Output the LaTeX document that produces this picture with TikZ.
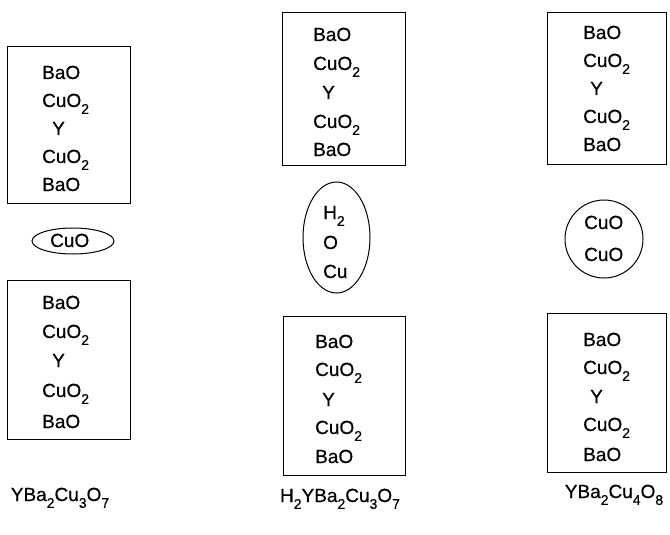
\documentclass[tikz,border=0pt]{standalone}
\usepackage{fontspec}
\setmainfont{Liberation Sans}[FakeBold=0.6]
\usetikzlibrary{shapes.geometric}
\newcommand{\chsub}[1]{\raisebox{-0.36em}{\fontsize{14}{14}\selectfont #1}}
\tikzset{
  layerbox/.style={draw, line width=1pt, rectangle, inner sep=0pt},
  ring/.style={draw, line width=1pt, ellipse, inner sep=0pt},
  lbl/.style={anchor=base west, inner sep=0pt, font=\fontsize{19}{19}\selectfont},
  formula/.style={anchor=base, inner sep=0pt, font=\fontsize{19}{19}\selectfont},
}
\begin{document}
\begin{tikzpicture}[x=1pt,y=-1pt]
\useasboundingbox (0,0) rectangle (670,535);
% ---------- left column ----------
\node[layerbox, minimum width=123pt, minimum height=156pt] (LT) at (68.5,125) {};
\node[lbl] (LT1) at (42,79) {BaO};
\node[lbl] (LT2) at (42,107) {CuO\chsub{2}};
\node[lbl] (LT3) at (52,135) {Y};
\node[lbl] (LT4) at (42,163) {CuO\chsub{2}};
\node[lbl] (LT5) at (42,191) {BaO};
\node[ring, minimum width=82pt, minimum height=26pt] (LE) at (73,241) {};
\node[lbl] (LE1) at (50,247) {CuO};
\node[layerbox, minimum width=123pt, minimum height=159pt] (LB) at (68.5,359.5) {};
\node[lbl] (LB1) at (42,309) {BaO};
\node[lbl] (LB2) at (42,338) {CuO\chsub{2}};
\node[lbl] (LB3) at (52,367) {Y};
\node[lbl] (LB4) at (42,397) {CuO\chsub{2}};
\node[lbl] (LB5) at (42,428) {BaO};
% ---------- middle column ----------
\node[layerbox, minimum width=123pt, minimum height=152pt] (MT) at (343.5,89) {};
\node[lbl] (MT1) at (313,41) {BaO};
\node[lbl] (MT2) at (313,70) {CuO\chsub{2}};
\node[lbl] (MT3) at (322,99) {Y};
\node[lbl] (MT4) at (313,128) {CuO\chsub{2}};
\node[lbl] (MT5) at (313,156) {BaO};
\node[ring, minimum width=67pt, minimum height=111pt] (ME) at (336.5,237.5) {};
\node[lbl] (ME1) at (323,219) {H\chsub{2}};
\node[lbl] (ME2) at (323,249) {O};
\node[lbl] (ME3) at (323,278) {Cu};
\node[layerbox, minimum width=122pt, minimum height=159pt] (MB) at (344,395.5) {};
\node[lbl] (MB1) at (315,348) {BaO};
\node[lbl] (MB2) at (315,376) {CuO\chsub{2}};
\node[lbl] (MB3) at (322,406) {Y};
\node[lbl] (MB4) at (315,434) {CuO\chsub{2}};
\node[lbl] (MB5) at (315,463) {BaO};
% ---------- right column ----------
\node[layerbox, minimum width=119pt, minimum height=151pt] (RT) at (607,88.5) {};
\node[lbl] (RT1) at (583,39) {BaO};
\node[lbl] (RT2) at (583,67) {CuO\chsub{2}};
\node[lbl] (RT3) at (590,95) {Y};
\node[lbl] (RT4) at (583,123) {CuO\chsub{2}};
\node[lbl] (RT5) at (583,151) {BaO};
\node[ring, minimum width=78pt, minimum height=78pt] (RE) at (604,239) {};
\node[lbl] (RE1) at (584,229) {CuO};
\node[lbl] (RE2) at (584,261) {CuO};
\node[layerbox, minimum width=119pt, minimum height=159pt] (RB) at (607,392.5) {};
\node[lbl] (RB1) at (583,346) {BaO};
\node[lbl] (RB2) at (583,374) {CuO\chsub{2}};
\node[lbl] (RB3) at (590,403) {Y};
\node[lbl] (RB4) at (583,431) {CuO\chsub{2}};
\node[lbl] (RB5) at (583,461) {BaO};
% ---------- formulas ----------
\node[formula] (F1) at (60,501) {YBa\chsub{2}Cu\chsub{3}O\chsub{7}};
\node[formula] (F2) at (340,502) {H\chsub{2}YBa\chsub{2}Cu\chsub{3}O\chsub{7}};
\node[formula] (F3) at (614,498) {YBa\chsub{2}Cu\chsub{4}O\chsub{8}};
\end{tikzpicture}
\end{document}
